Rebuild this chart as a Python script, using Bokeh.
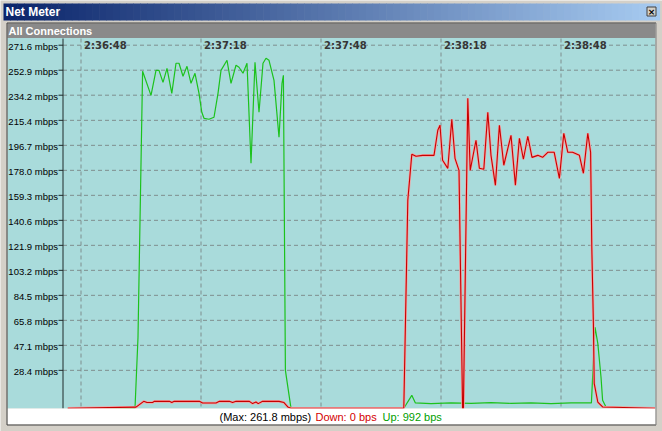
import numpy as np
from bokeh.plotting import figure
from bokeh.models import Range1d
from bokeh.core.properties import value
from bokeh.embed import file_html
from bokeh.resources import INLINE

# ---------------- data (seconds after 2:36:48, mbps) ----------------
x_tick_seconds = [0, 30, 60, 90, 120]
x_tick_labels = ["2:36:48", "2:37:18", "2:37:48", "2:38:18", "2:38:48"]
y_tick_mbps = [28.4, 47.1, 65.8, 84.5, 103.2, 121.9, 140.6, 159.3,
               178.0, 196.7, 215.4, 234.2, 252.9, 271.6]

up_t = [-3.3, 13.5, 14.25, 15.4, 17.5, 18.75, 19.5, 20.5, 21.5, 22.7, 23.75,
        24.5, 25.5, 26.5, 27.5, 28.5, 29.5, 30.2, 30.75, 32.0, 33.25, 34.25,
        35.0, 36.5, 37.5, 38.75, 39.5, 40.5, 41.5, 42.5, 43.5, 44.5, 45.5,
        46.25, 47.0, 48.25, 49.5, 50.25, 50.6, 51.1, 52.5, 80.7, 82.7, 83.6,
        87.5, 92.5, 97.5, 102.5, 107.5, 112.5, 117.5, 122.5, 127.6, 128.5,
        129.2, 130.0, 130.4, 131.25, 143.5]
up_mbps = [0.0, 0.0, 53.1, 252.1, 234.1, 252.8, 252.8, 243.8, 254.3, 235.6,
           258.1, 258.1, 248.4, 255.8, 243.1, 250.6, 235.6, 221.4, 216.9,
           216.2, 217.7, 235.6, 252.8, 260.3, 243.1, 256.6, 255.1, 250.6,
           258.1, 183.3, 258.8, 221.4, 258.1, 261.8, 260.3, 245.3, 202.7,
           243.1, 249.1, 28.4, 0.0, 0.0, 9.7, 4.0, 3.5, 4.0, 3.7, 4.2, 3.7,
           4.0, 3.5, 4.0, 4.0, 60.8, 48.6, 23.4, 6.0, 1.0, 0.0]

down_t = [-3.3, 13.75, 15.68, 16.5, 17.9, 18.3, 22.1, 22.7, 23.3, 29.6, 30.4,
          33.75, 34.6, 37.1, 37.9, 38.75, 42.1, 42.9, 43.75, 44.3, 45.4,
          49.5, 50.75, 51.7, 52.5, 80.7, 81.7, 82.7, 83.75, 85.4, 88.25,
          89.2, 89.75, 90.4, 91.7, 92.7, 93.5, 94.5, 95.4, 95.6, 96.7, 97.3,
          98.75, 99.6, 100.7, 101.7, 102.5, 103.6, 104.6, 105.7, 107.5,
          108.6, 109.6, 110.6, 111.7, 112.75, 114.2, 115.4, 116.7, 118.3,
          119.6, 120.7, 121.7, 122.9, 124.6, 125.6, 126.7, 127.4, 127.7,
          128.1, 128.3, 129.2, 130.4, 143.5]
down_mbps = [0.0, 0.9, 5.2, 4.3, 4.3, 5.2, 5.2, 4.3, 5.2, 5.2, 4.0, 4.0, 5.2,
             5.2, 4.3, 5.2, 5.2, 3.5, 4.7, 3.5, 5.2, 5.2, 4.3, 1.0, 0.0, 0.0,
             155.6, 190.0, 188.5, 189.2, 189.2, 208.0, 211.8, 185.5, 179.5,
             216.2, 187.0, 178.0, 0.0, 0.0, 231.9, 178.0, 200.5, 179.5, 178.8,
             221.4, 189.2, 166.8, 211.7, 181.8, 204.2, 166.8, 202.0, 186.3,
             203.5, 187.7, 189.2, 187.7, 191.5, 191.5, 172.0, 205.7, 191.5,
             191.5, 189.2, 175.8, 205.7, 191.5, 120.4, 63.6, 18.7, 4.7, 1.0,
             0.0]

current_down_bps = 0
current_up_bps = 992

# ---------------- layout geometry (pixels) ----------------
W, H = 662, 431
PANEL_L, PANEL_R = 7, 655
PLOT_L, PLOT_T, PLOT_B = 62.5, 38, 408
X_T0, PX_PER_SEC = 80.5, 4.0          # pixel of 2:36:48, pixels per second
Y_V0, MBPS_PER_PX = 407.8, 18.7 / 25.0  # pixel of 0 mbps, scale

FACE = "#d4d0c8"
TEAL = "#a9dbdb"
GRID = "#7f8e8e"
DARK = "#1e2a2a"

p = figure(width=W, height=H, x_range=Range1d(0, W), y_range=Range1d(H, 0),
           x_axis_location=None, y_axis_location=None, toolbar_location=None,
           output_backend="svg", min_border=0, title=None)
p.outline_line_color = None
p.grid.visible = False
p.background_fill_color = FACE
p.border_fill_color = FACE
p.extra_x_ranges = {"time": Range1d((0 - X_T0) / PX_PER_SEC, (W - X_T0) / PX_PER_SEC)}
p.extra_y_ranges = {"mbps": Range1d((Y_V0 - H) * MBPS_PER_PX, Y_V0 * MBPS_PER_PX)}

# ---- window chrome: title bar with gradient ----
n = 96
edges = np.linspace(3, 659, n + 1)
c0 = np.array([10, 36, 106])
c1 = np.array([166, 202, 240])
cols = ["#%02x%02x%02x" % tuple(int(round(v)) for v in c0 + (c1 - c0) * f)
        for f in np.linspace(0, 1, n)]
p.quad(left=edges[:-1], right=edges[1:] + 0.6, top=3, bottom=20,
       fill_color=cols, line_color=None)
p.text(x=[5], y=[11.8], text=["Net Meter"], text_baseline="middle",
       text_font=value("Liberation Sans"), text_font_style="bold",
       text_font_size="12px", text_color="white")
p.quad(left=[646.5], right=[655.5], top=[6.5], bottom=[15.5], fill_color=FACE,
       line_color="#404040", line_width=1)
p.text(x=[651], y=[11.2], text=["\u00d7"], text_align="center",
       text_baseline="middle", text_font=value("DejaVu Sans"),
       text_font_style="bold", text_font_size="9px", text_color="black")

# ---- header bar ----
p.quad(left=[PANEL_L], right=[PANEL_R], top=[23], bottom=[37.5],
       fill_color="#8a8a8a", line_color=None)
p.text(x=[8], y=[30.8], text=["All Connections"], text_baseline="middle",
       text_font=value("Liberation Sans"), text_font_style="bold",
       text_font_size="11px", text_color="white")

# ---- plot panel ----
p.quad(left=[PANEL_L], right=[PANEL_R], top=[37.5], bottom=[PLOT_B],
       fill_color=TEAL, line_color=None)

# grid lines (from the tick arrays)
p.segment(x0=[PLOT_L] * len(y_tick_mbps), x1=[PANEL_R] * len(y_tick_mbps),
          y0=y_tick_mbps, y1=y_tick_mbps, y_range_name="mbps",
          line_color=GRID, line_width=1, line_dash="4 3")
p.segment(x0=x_tick_seconds, x1=x_tick_seconds,
          y0=[PLOT_T] * len(x_tick_seconds), y1=[PLOT_B] * len(x_tick_seconds),
          x_range_name="time", line_color=GRID, line_width=1, line_dash="4 3")

# y axis: line, ticks, labels
p.segment(x0=[PLOT_L], x1=[PLOT_L], y0=[PLOT_T], y1=[PLOT_B],
          line_color=DARK, line_width=1)
p.segment(x0=[PLOT_L - 4.5] * len(y_tick_mbps), x1=[PLOT_L] * len(y_tick_mbps),
          y0=y_tick_mbps, y1=y_tick_mbps, y_range_name="mbps",
          line_color=DARK, line_width=1)
p.text(x=[PLOT_L - 5] * len(y_tick_mbps), y=y_tick_mbps,
       text=[f"{v:.1f} mbps" for v in y_tick_mbps], y_range_name="mbps",
       text_align="right", text_baseline="middle", y_offset=1,
       text_font=value("Liberation Sans"), text_font_size="9.5px",
       text_color="black")

# series
p.line(up_t, up_mbps, x_range_name="time", y_range_name="mbps",
       line_color="#1cc21c", line_width=1.2)
p.line(down_t, down_mbps, x_range_name="time", y_range_name="mbps",
       line_color="#f2a5a5", line_width=2.6)
p.line(down_t, down_mbps, x_range_name="time", y_range_name="mbps",
       line_color="#c80000", line_width=1.1)

# time labels at top of the plot
p.text(x=x_tick_seconds, y=[y_tick_mbps[-1]] * len(x_tick_seconds),
       text=x_tick_labels, x_range_name="time", y_range_name="mbps",
       x_offset=3, y_offset=0.5, text_baseline="middle",
       text_font=value("DejaVu Sans"), text_font_style="bold",
       text_font_size="10px", text_color="#363636")

# ---- status bar ----
p.quad(left=[PANEL_L], right=[PANEL_R], top=[PLOT_B], bottom=[424],
       fill_color="white", line_color=None)
status_text = [f"(Max: {max(up_mbps):.1f} mbps)",
               f"Down: {current_down_bps} bps",
               f"Up: {current_up_bps} bps"]
p.text(x=[219, 315, 382], y=[416.4] * 3, text=status_text,
       text_color=["black", "#d40000", "#00a000"], text_baseline="middle",
       text_font=value("Liberation Sans"), text_font_size="11px")

# panel border (sunken look)
p.segment(x0=[6.5, 6.5, 6.5], x1=[6.5, 655.5, 655.5], y0=[22.5, 22.5, 424.5],
          y1=[424.5, 22.5, 424.5], line_color="#404040", line_width=1)
p.segment(x0=[655.5], x1=[655.5], y0=[22.5], y1=[424.5],
          line_color="#808080", line_width=1)

open("out.html", "w").write(file_html(p, INLINE))
